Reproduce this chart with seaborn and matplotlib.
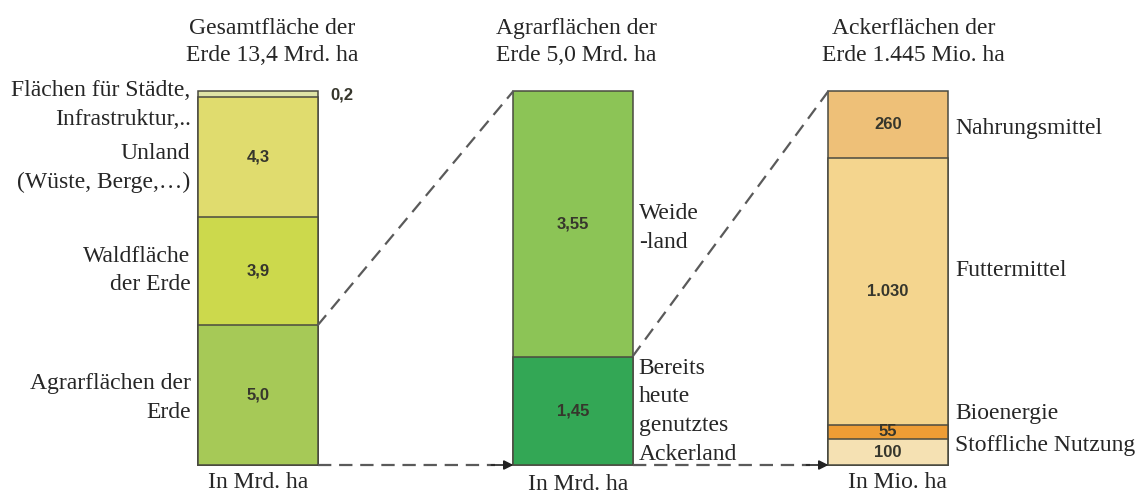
import numpy as np
import pandas as pd
import matplotlib
matplotlib.use("Agg")
import matplotlib.pyplot as plt
import seaborn as sns

# ---- data (bottom -> top for every bar) ----
bar_names = ["gesamt", "agrar", "acker"]
bar_titles = ["Gesamtfläche der\nErde 13,4 Mrd. ha",
              "Agrarflächen der\nErde 5,0 Mrd. ha",
              "Ackerflächen der\nErde 1.445 Mio. ha"]
units = ["In Mrd. ha", "In Mrd. ha", "In Mio. ha"]

gesamt_vals = [5.0, 3.9, 4.3, 0.2]
gesamt_text = ["5,0", "3,9", "4,3", ""]
gesamt_cols = ["#a6c957", "#ccd94c", "#e0dc6e", "#dfe4a6"]

agrar_vals = [1.45, 3.55]
agrar_text = ["1,45", "3,55"]
agrar_cols = ["#33a755", "#8cc456"]

acker_vals = [100, 55, 1030, 260]
acker_text = ["100", "55", "1.030", "260"]
acker_cols = ["#f5e1b3", "#ee9d35", "#f4d58e", "#eec078"]

all_vals = [gesamt_vals, agrar_vals, acker_vals]
all_text = [gesamt_text, agrar_text, acker_text]
all_cols = [gesamt_cols, agrar_cols, acker_cols]

# ---- figure ----
sns.set_style("white")
plt.rcParams["font.family"] = ["Liberation Serif", "DejaVu Serif"]
fig = plt.figure(figsize=(11.41, 4.95), dpi=100)
ax = fig.add_axes([0, 0, 1, 1])

bw = 0.378
edge = "#4a4a40"
num_font = dict(family=["Liberation Sans", "DejaVu Sans"], fontweight="bold",
                fontsize=12, color="#36362c", ha="center", va="center")
lab_size = 17

# stacked bars: draw cumulative tops from the top segment down
for i, name in enumerate(bar_names):
    vals = np.array(all_vals[i], dtype=float)
    frac = vals / vals.sum()
    tops = np.cumsum(frac)
    for j in range(len(vals) - 1, -1, -1):
        df = pd.DataFrame({"bar": [name], "top": [tops[j]]})
        sns.barplot(data=df, x="bar", y="top", order=bar_names,
                    color=all_cols[i][j], saturation=1, width=bw,
                    edgecolor=edge, linewidth=1.1, ax=ax)
    bottoms = tops - frac
    for j in range(len(vals)):
        if all_text[i][j]:
            ax.text(i, (bottoms[j] + tops[j]) / 2, all_text[i][j], **num_font)

# small value above first bar
ax.text(0 + bw / 2 + 0.04, 0.99, "0,2", **{**num_font, "ha": "left"})

# connectors between bars
dash = dict(color="#5a5a5a", lw=1.6, dashes=(6, 3.5))
for i in range(2):
    vals = np.array(all_vals[i], dtype=float)
    y_link = vals[0] / vals.sum()
    x0 = i + bw / 2
    x1 = i + 1 - bw / 2
    ax.plot([x0, x1], [y_link, 1.0], **dash)
    ax.plot([x0, x1 - 0.06], [0, 0], **dash)
    ax.annotate("", xy=(x1, 0), xytext=(x1 - 0.07, 0),
                arrowprops=dict(arrowstyle="-|>", color="#222222", lw=1.2,
                                mutation_scale=14, shrinkA=0, shrinkB=0))


# pixel rows of the reference converted to bar fraction
def yfrac(py):
    return (465 - py) / 374


# titles and unit labels
title_x = [0.045, 0.01, 0.08]
for i in range(3):
    ax.text(i + title_x[i], yfrac(42), bar_titles[i], ha="center",
            va="center", fontsize=lab_size, linespacing=1.32)
unit_x = [0.0, 0.015, 0.03]
unit_y = [482, 484, 482]
for i in range(3):
    ax.text(i + unit_x[i], yfrac(unit_y[i]), units[i], ha="center",
            va="center", fontsize=lab_size)

left_x = -bw / 2 - 0.025
for txt, py in [("Flächen für Städte,", 90), ("Infrastruktur,..", 119),
                ("Unland", 153), ("(Wüste, Berge,…)", 182),
                ("Waldfläche", 256), ("der Erde", 285),
                ("Agrarflächen der", 384), ("Erde", 412)]:
    ax.text(left_x, yfrac(py), txt, ha="right", va="center", fontsize=lab_size)

for txt, py in [("Weide", 213), ("-land", 242), ("Bereits", 368),
                ("heute", 397), ("genutztes", 425), ("Ackerland", 454)]:
    ax.text(1 + bw / 2 + 0.02, yfrac(py), txt, ha="left", va="center",
            fontsize=lab_size)

for txt, py in [("Nahrungsmittel", 128), ("Futtermittel", 270),
                ("Bioenergie", 413), ("Stoffliche Nutzung", 445)]:
    ax.text(2 + bw / 2 + 0.025, yfrac(py), txt, ha="left", va="center",
            fontsize=lab_size)

ax.set_xlim(-258 / 315, (1141 - 258) / 315)
ax.set_ylim(-30 / 374, 1 + 91 / 374)
ax.axis("off")

fig.savefig("out.png", dpi=100, facecolor="white")
